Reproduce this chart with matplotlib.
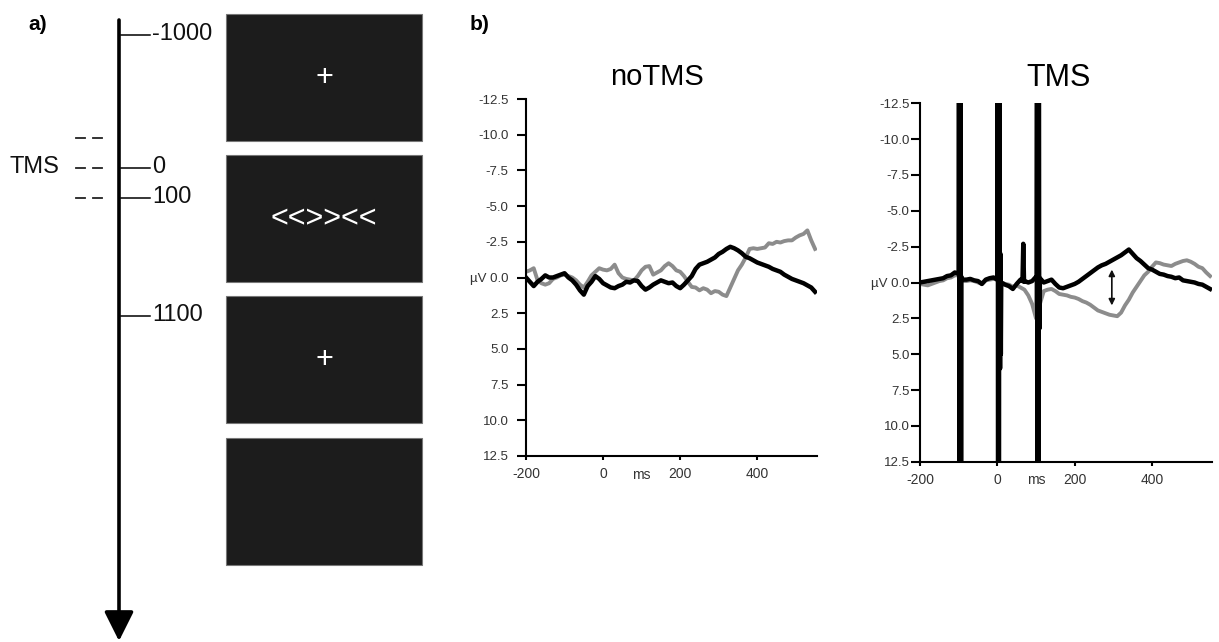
import matplotlib.pyplot as plt
from matplotlib.patches import Rectangle
import numpy as np

plt.rcParams['font.family'] = ['Liberation Sans', 'DejaVu Sans']

# ---- data ----
# panel a: trial timeline
timeline_labels = ['-1000', '0', '100', '1100']
screen_symbols = ['+', '<<>><<', '+', '']

# panel b: ERP traces, uV sampled every 10 ms from -200 to 550
t_ms = np.arange(-200, 551, 10)

notms_black = [0.0, 0.3, 0.6, 0.3, 0.1, -0.15, 0.0, 0.0, -0.1, -0.2,
               -0.3, 0.0, 0.2, 0.5, 0.9, 1.2, 0.6, 0.3, -0.1, 0.1,
               0.4, 0.55, 0.7, 0.75, 0.6, 0.5, 0.3, 0.35, 0.2, 0.25,
               0.6, 0.85, 0.7, 0.5, 0.35, 0.2, 0.3, 0.4, 0.35, 0.6,
               0.75, 0.5, 0.2, -0.1, -0.6, -0.9, -1.0, -1.1, -1.25, -1.4,
               -1.65, -1.8, -2.0, -2.15, -2.05, -1.9, -1.7, -1.45, -1.35, -1.2,
               -1.05, -0.95, -0.85, -0.75, -0.6, -0.5, -0.4, -0.2, -0.05, 0.1,
               0.2, 0.3, 0.4, 0.55, 0.7, 1.0]
notms_gray = [-0.4, -0.5, -0.65, 0.2, 0.4, 0.5, 0.4, 0.1, 0.0, -0.15,
              -0.2, -0.1, 0.0, 0.2, 0.5, 0.7, 0.3, -0.15, -0.4, -0.65,
              -0.55, -0.5, -0.6, -0.9, -0.3, 0.0, 0.1, 0.15, 0.2, -0.1,
              -0.5, -0.75, -0.8, -0.2, -0.35, -0.5, -0.8, -1.0, -0.8, -0.5,
              -0.4, -0.1, 0.3, 0.66, 0.7, 0.9, 0.75, 0.85, 1.1, 0.95,
              1.0, 1.2, 1.3, 0.7, 0.1, -0.5, -0.9, -1.4, -2.0, -2.05,
              -2.0, -2.05, -2.1, -2.4, -2.35, -2.5, -2.45, -2.55, -2.6, -2.6,
              -2.8, -2.95, -3.05, -3.3, -2.6, -2.0]

tms_black = [0.0, -0.05, -0.1, -0.15, -0.2, -0.25, -0.3, -0.45, -0.5, -0.7,
             -0.6, -0.2, -0.2, -0.25, -0.15, -0.1, 0.1, -0.2, -0.3, -0.35,
             -0.2, 0.0, 0.15, 0.25, 0.45, 0.1, -0.2, -0.1, 0.0, -0.1,
             -0.4, -0.3, 0.0, -0.1, -0.2, 0.1, 0.35, 0.4, 0.3, 0.2,
             0.1, -0.05, -0.25, -0.45, -0.65, -0.85, -1.05, -1.2, -1.3, -1.45,
             -1.6, -1.75, -1.9, -2.1, -2.3, -2.0, -1.7, -1.5, -1.25, -1.0,
             -0.9, -0.75, -0.6, -0.55, -0.45, -0.4, -0.3, -0.35, -0.15, -0.1,
             -0.05, 0.0, 0.1, 0.15, 0.3, 0.45]
tms_gray = [0.1, 0.15, 0.2, 0.1, 0.0, -0.1, -0.15, -0.3, -0.35, -0.5,
            -0.5, -0.1, -0.1, -0.15, -0.1, 0.0, 0.1, -0.15, -0.2, -0.25,
            -0.2, 0.0, 0.1, 0.15, 0.3, 0.2, 0.35, 0.5, 0.9, 1.5,
            2.5, 1.5, 0.6, 0.5, 0.45, 0.6, 0.8, 0.85, 0.9, 1.0,
            1.05, 1.15, 1.3, 1.4, 1.55, 1.75, 1.95, 2.05, 2.15, 2.25,
            2.3, 2.35, 2.1, 1.6, 1.2, 0.7, 0.3, -0.1, -0.5, -0.75,
            -1.1, -1.4, -1.35, -1.25, -1.2, -1.15, -1.3, -1.4, -1.5, -1.55,
            -1.45, -1.3, -1.1, -1.0, -0.7, -0.45]

# TMS pulse artefacts (ms, uV), saturating far beyond the axis range
art_black_t = [-100, -99, -98, -97, -96, -95, -94, -93,
               0, 1, 2, 3, 4, 5, 6, 7, 8, 9,
               65, 67, 69,
               102, 103, 104, 105, 106, 107, 108, 109, 110]
art_black_v = [-0.6, -40, 40, -40, 40, -40, 40, -0.4,
               -0.2, -40, 40, -40, 40, -40, -2.5, 6, -2, 5,
               -0.1, -2.7, -0.05,
               -0.3, -40, 40, -40, 40, -40, -1.0, 3.2, -0.3]
art_gray_t = [-100.5, -99.5, -98.5, -97.5, 1.5, 2.5, 3.5, 102.5, 103.5, 104.5]
art_gray_v = [-0.5, -40, 40, -0.4, -40, 40, -0.1, -40, 40, 1.0]


def merge(tb, vb, te, ve):
    t = np.concatenate([tb, te])
    v = np.concatenate([vb, ve])
    order = np.argsort(t, kind='stable')
    return t[order], v[order]


W, H = 1219, 642
fig = plt.figure(figsize=(W / 100, H / 100), dpi=100)

# ---- panel a: timeline (pixel layout) ----
axa = fig.add_axes([0, 0, 440 / W, 1])
axa.set_xlim(0, 440)
axa.set_ylim(H, 0)
axa.axis('off')

axa.text(28, 24, 'a)', fontsize=15, fontweight='bold', va='center', ha='left')
axa.annotate('', xy=(119, 641), xytext=(119, 20),
             arrowprops=dict(arrowstyle='-|>,head_length=1.0,head_width=0.5',
                             mutation_scale=18, lw=2.6, color='k',
                             shrinkA=0, shrinkB=0))
tick_y = [35, 168, 198, 316]
for lab, y in zip(timeline_labels, tick_y):
    axa.plot([121, 150], [y, y], color='k', lw=1.1)
    axa.text(152, y - 1, lab, va='center', ha='left', fontsize=17, color='#111')

for y in [138, 168, 198]:
    axa.plot([76, 85], [y, y], color='#222', lw=1.3)
    axa.plot([93, 102], [y, y], color='#222', lw=1.3)
axa.text(10, 167, 'TMS', va='center', ha='left', fontsize=17, color='#111')

box_tops = [14, 155, 296, 438]
for top, sym in zip(box_tops, screen_symbols):
    axa.add_patch(Rectangle((226, top), 196, 127, facecolor='#1c1c1c',
                            edgecolor='#777', lw=0.8))
    axa.text(324, top + 64, sym, color='white', fontsize=22,
             ha='center', va='center')

fig.text(470 / W, 1 - 24 / H, 'b)', fontsize=15, fontweight='bold',
         va='center', ha='left')


# ---- panel b: ERPs ----
def style(ax, ypad):
    ax.set_xlim(-200, 555)
    ax.set_ylim(12.5, -12.5)
    for s in ['top', 'right']:
        ax.spines[s].set_visible(False)
    for s in ['left', 'bottom']:
        ax.spines[s].set_linewidth(1.5)
    yt = np.arange(-12.5, 12.6, 2.5)
    ax.set_yticks(yt)
    ax.set_yticklabels(['µV 0.0' if abs(v) < 1e-9 else '%.1f' % v for v in yt])
    ax.set_xticks([-200, 0, 200, 400])
    ax.set_xticklabels(['-200', '0', '200', '400'])
    ax.tick_params(axis='y', direction='out', length=6.5, width=1.5,
                   pad=ypad, labelsize=9.5, labelcolor='#333')
    ax.tick_params(axis='x', direction='out', length=3, width=1.5,
                   pad=5, labelsize=10, labelcolor='#333')
    ax.annotate('ms', xy=(100, 0), xycoords=('data', 'axes fraction'),
                xytext=(0, -13.5), textcoords='offset points',
                ha='center', va='center', fontsize=10, color='#333')


ax1 = fig.add_axes([526 / W, 1 - 456 / H, 291 / W, 357 / H])
style(ax1, 6)
ax1.plot(t_ms, notms_gray, color='#8c8c8c', lw=2.8)
ax1.plot(t_ms, notms_black, color='black', lw=3.2)
fig.text(657 / W, 1 - 77 / H, 'noTMS', fontsize=21, ha='center', va='center')

ax2 = fig.add_axes([920 / W, 1 - 461.7 / H, 292 / W, 358.4 / H])
style(ax2, 1)
tg, vg = merge(t_ms, tms_gray, art_gray_t, art_gray_v)
tb, vb = merge(t_ms, tms_black, art_black_t, art_black_v)
ax2.plot(tg, vg, color='#8c8c8c', lw=2.8)
ax2.plot(tb, vb, color='black', lw=3.2)
ax2.annotate('', xy=(296, -0.9), xytext=(296, 1.6),
             arrowprops=dict(arrowstyle='<|-|>', lw=1.2, color='#111',
                             mutation_scale=9, shrinkA=0, shrinkB=0))
fig.text(1059 / W, 1 - 78 / H, 'TMS', fontsize=22, ha='center', va='center')

fig.savefig('out.png', dpi=100)
